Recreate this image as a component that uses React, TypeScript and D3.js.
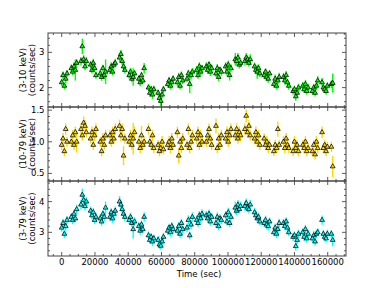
import React from "react";
import * as d3 from "d3";

// Time bins (sec)
const TIME = [
  0, 800, 1600, 2400, 3200,
  5800, 6600, 7400, 8200, 9000,
  11600, 12400, 13200, 14000, 14800,
  17400, 18200, 19000, 19800, 20600,
  23200, 24000, 24800, 25600, 26400,
  29000, 29800, 30600, 31400, 32200,
  34800, 35600, 36400, 37200, 38000,
  40600, 41400, 42200, 43000, 43800,
  46400, 47200, 48000, 48800, 49600,
  52200, 53000, 53800, 54600, 55400,
  58000, 58800, 59600, 60400, 61200,
  63800, 64600, 65400, 66200, 67000,
  69600, 70400, 71200, 72000, 72800,
  75400, 76200, 77000, 77800, 78600,
  81200, 82000, 82800, 83600, 84400,
  87000, 87800, 88600, 89400, 90200,
  92800, 93600, 94400, 95200, 96000,
  98600, 99400, 100200, 101000, 101800,
  104400, 105200, 106000, 106800, 107600,
  110200, 111000, 111800, 112600, 113400,
  116000, 116800, 117600, 118400, 119200,
  121800, 122600, 123400, 124200, 125000,
  127600, 128400, 129200, 130000, 130800,
  133400, 134200, 135000, 135800, 136600,
  139200, 140000, 140800, 141600, 142400,
  145000, 145800, 146600, 147400, 148200,
  150800, 151600, 152400, 153200, 154000,
  156600, 157400, 158200, 159000, 159800,
  162200, 163000,
];

// 3-10 keV rate and error (counts/sec)
const RATE_SOFT = [
  2.15, 2.35, 2.05, 2.25, 2.4,
  2.55, 2.45, 2.6, 2.5, 2.7,
  2.75, 3.17, 2.8, 2.6, 2.75,
  2.65, 2.5, 2.7, 2.55, 2.35,
  2.4, 2.3, 2.55, 2.35, 2.45,
  2.5, 2.6, 2.45, 2.65, 2.7,
  2.85, 2.95, 2.75, 2.6, 2.5,
  2.35, 2.45, 2.25, 2.3, 2.4,
  2.25, 2.15, 2.35, 2.2, 2.55,
  2.0, 1.85, 1.95, 1.8, 1.95,
  1.85, 1.7, 1.62, 1.8, 1.95,
  2.1, 2.2, 2.05, 2.15, 2.25,
  2.15, 2.3, 2.05, 2.35, 2.2,
  2.25, 2.4, 2.1, 2.35, 2.45,
  2.5, 2.35, 2.6, 2.45, 2.55,
  2.6, 2.5, 2.65, 2.45, 2.55,
  2.4, 2.55, 2.3, 2.5, 2.45,
  2.6, 2.45, 2.65, 2.35, 2.55,
  2.8, 2.75, 2.85, 2.65, 2.7,
  2.75, 2.85, 2.8, 2.7, 2.8,
  2.6, 2.5, 2.45, 2.55, 2.4,
  2.35, 2.45, 2.3, 2.25, 2.4,
  2.1, 2.25, 2.05, 2.2, 2.3,
  2.3, 2.2, 2.35, 2.15, 2.05,
  1.9, 1.95, 1.75, 1.85, 2.0,
  2.05, 1.95, 2.1, 1.9, 2.0,
  1.9, 2.0, 1.85, 2.05, 2.2,
  2.15, 2.0, 1.95, 1.9, 2.05,
  2.1, 2.13,
];
const ERR_SOFT = [
  .1, .11, .1, .12, .1,
  .11, .1, .12, .3, .11,
  .12, .22, .12, .11, .12,
  .11, .1, .12, .11, .1,
  .1, .11, .1, .11, .35,
  .11, .12, .1, .11, .12,
  .13, .12, .11, .12, .1,
  .1, .11, .1, .25, .1,
  .1, .11, .1, .1, .15,
  .1, .11, .1, .12, .1,
  .1, .11, .15, .1, .1,
  .1, .11, .1, .12, .1,
  .11, .12, .1, .11, .1,
  .1, .11, .25, .12, .11,
  .11, .1, .12, .11, .1,
  .12, .11, .1, .12, .11,
  .1, .12, .11, .1, .11,
  .12, .11, .12, .15, .11,
  .18, .12, .13, .11, .12,
  .12, .13, .12, .11, .15,
  .11, .12, .2, .11, .1,
  .11, .1, .12, .11, .1,
  .1, .12, .1, .11, .12,
  .12, .11, .12, .1, .11,
  .1, .11, .12, .1, .11,
  .11, .1, .12, .1, .11,
  .1, .11, .1, .12, .13,
  .12, .11, .1, .1, .11,
  .11, .27,
];

// 10-79 keV
const RATE_HARD = [
  0.95, 1.05, 0.85, 1.2, 1.0,
  1.0, 1.1, 0.95, 1.15, 1.0,
  1.2, 1.1, 1.3, 1.25, 1.15,
  1.05, 1.15, 0.95, 1.1, 1.2,
  1.0, 0.85, 1.05, 0.95, 1.1,
  1.1, 1.0, 1.15, 1.05, 1.2,
  1.25, 1.1, 1.2, 0.78, 1.05,
  1.0, 1.1, 0.95, 1.05, 1.15,
  1.0, 0.9, 1.1, 0.95, 1.0,
  1.2, 1.0, 0.95, 1.1, 0.9,
  0.95, 0.85, 0.9, 1.0, 0.88,
  0.95, 1.0, 0.9, 1.05, 0.95,
  1.15, 0.78, 1.0, 0.9, 1.05,
  0.95, 1.2, 0.9, 1.0, 1.1,
  1.05, 1.15, 0.95, 1.1, 1.0,
  1.0, 1.1, 1.2, 1.05, 0.95,
  1.25, 0.9, 1.05, 0.95, 1.1,
  1.05, 1.15, 1.0, 1.1, 1.2,
  1.1, 1.2, 1.05, 1.15, 1.1,
  1.2, 1.41, 1.15, 1.25, 1.1,
  1.05, 1.15, 1.0, 1.1, 0.95,
  1.05, 0.95, 1.0, 0.9, 0.95,
  0.85, 0.95, 0.9, 1.2, 0.95,
  1.0, 0.9, 1.05, 0.95, 0.9,
  0.85, 1.0, 0.9, 0.95, 0.85,
  0.95, 0.9, 1.0, 0.85, 0.9,
  0.85, 0.95, 0.8, 1.0, 0.9,
  1.15, 0.9, 0.95, 0.85, 0.92,
  0.92, 0.61,
];
const ERR_HARD = [
  .08, .09, .08, .09, .08,
  .08, .09, .08, .09, .17,
  .09, .08, .1, .09, .08,
  .08, .09, .08, .09, .09,
  .08, .08, .09, .08, .09,
  .09, .08, .09, .08, .09,
  .1, .09, .09, .15, .08,
  .08, .09, .08, .25, .09,
  .08, .08, .15, .08, .08,
  .09, .08, .08, .09, .08,
  .08, .08, .08, .09, .08,
  .08, .09, .08, .09, .08,
  .09, .12, .08, .08, .09,
  .08, .09, .08, .08, .09,
  .09, .09, .08, .09, .08,
  .08, .09, .09, .08, .08,
  .12, .08, .09, .08, .09,
  .09, .09, .08, .09, .09,
  .09, .09, .08, .09, .09,
  .09, .1, .09, .09, .08,
  .09, .09, .08, .09, .08,
  .08, .08, .09, .08, .08,
  .08, .08, .08, .12, .08,
  .09, .08, .09, .08, .08,
  .08, .09, .08, .08, .08,
  .08, .08, .09, .08, .08,
  .08, .08, .08, .09, .08,
  .09, .08, .08, .08, .08,
  .08, .17,
];

// 3-79 keV
const RATE_FULL = [
  3.15, 3.3, 2.95, 3.2, 3.4,
  3.5, 3.4, 3.6, 3.45, 3.75,
  3.9, 4.22, 4.05, 3.85, 4.0,
  3.7, 3.55, 3.65, 3.4, 3.5,
  3.45, 3.35, 3.6, 3.5, 3.8,
  3.5, 3.65, 3.45, 3.6, 3.7,
  4.0, 3.9, 3.75, 3.6, 3.5,
  3.4, 3.5, 3.3, 3.1, 3.35,
  3.2, 3.05, 3.25, 3.1, 3.5,
  2.9, 2.75, 2.85, 2.7, 2.8,
  2.75, 2.6, 2.56, 2.7, 2.85,
  3.05, 3.15, 3.0, 3.2, 3.1,
  3.05, 3.2, 2.95, 3.3, 3.1,
  3.15, 3.4, 2.9, 3.25, 3.5,
  3.4, 3.3, 3.55, 3.45, 3.6,
  3.55, 3.45, 3.6, 3.35, 3.5,
  3.3, 3.5, 3.2, 3.45, 3.4,
  3.55, 3.35, 3.65, 3.3, 3.5,
  3.8, 3.7, 3.9, 3.75, 3.85,
  3.85, 3.95, 3.8, 3.75, 3.9,
  3.65, 3.55, 3.45, 3.5, 3.35,
  3.3, 3.4, 3.25, 3.2, 3.35,
  3.0, 3.15, 2.95, 3.1, 3.3,
  3.3, 3.2, 3.35, 3.15, 3.0,
  2.85, 2.9, 2.55, 2.75, 2.95,
  3.0, 2.85, 3.1, 2.8, 2.95,
  2.8, 2.9, 2.7, 2.95, 3.0,
  3.4, 2.95, 2.85, 2.8, 2.95,
  2.95, 2.75,
];
const ERR_FULL = [
  .13, .14, .13, .14, .13,
  .14, .13, .14, .13, .15,
  .15, .2, .15, .14, .15,
  .14, .13, .14, .13, .14,
  .13, .14, .13, .14, .2,
  .14, .13, .14, .13, .14,
  .18, .15, .14, .14, .13,
  .13, .14, .13, .3, .14,
  .13, .13, .14, .13, .15,
  .13, .13, .13, .14, .13,
  .13, .13, .13, .13, .14,
  .14, .13, .14, .13, .14,
  .13, .14, .13, .14, .13,
  .14, .15, .13, .14, .15,
  .14, .13, .14, .14, .15,
  .14, .13, .14, .13, .14,
  .14, .15, .13, .14, .13,
  .14, .13, .15, .13, .14,
  .2, .14, .15, .14, .15,
  .15, .15, .14, .14, .15,
  .14, .14, .13, .14, .13,
  .13, .14, .13, .14, .13,
  .13, .14, .13, .15, .14,
  .14, .13, .14, .13, .13,
  .13, .13, .14, .13, .14,
  .13, .13, .14, .13, .13,
  .13, .14, .13, .14, .13,
  .15, .13, .14, .13, .14,
  .13, .2,
];

const X_TICKS = [0, 20000, 40000, 60000, 80000, 100000, 120000, 140000, 160000];
const LABEL_SOFT = ["(3-10 keV)", "(counts/sec)"];
const LABEL_HARD = ["(10-79 keV)", "(counts/sec)"];
const LABEL_FULL = ["(3-79 keV)", "(counts/sec)"];
const TICKS_SOFT = [2, 3];
const TICKS_HARD = [0.5, 1.0, 1.5];
const TICKS_FULL = [3, 4];

const FONT = "DejaVu Sans, sans-serif";
const L = 48, R = 346;

const x = d3.scaleLinear().domain([-8240, 171000]).range([L, R]);

const panels = [
  { rate: RATE_SOFT, err: ERR_SOFT, label: LABEL_SOFT, ticks: TICKS_SOFT, fmt: d3.format("d"), domain: [1.45, 3.55], top: 33, bottom: 107, minor: 0.2, color: "#00ff00" },
  { rate: RATE_HARD, err: ERR_HARD, label: LABEL_HARD, ticks: TICKS_HARD, fmt: d3.format(".1f"), domain: [0.38, 1.55], top: 107, bottom: 181, minor: 0.1, color: "#ffd700" },
  { rate: RATE_FULL, err: ERR_FULL, label: LABEL_FULL, ticks: TICKS_FULL, fmt: d3.format("d"), domain: [2.23, 4.67], top: 181, bottom: 256, minor: 0.2, color: "#00ffff" },
];

const tri = d3.symbol().type(d3.symbolTriangle).size(10)() as string;

function Panel({ p, last }: { p: typeof panels[number]; last: boolean }) {
  const y = d3.scaleLinear().domain(p.domain).range([p.bottom, p.top]);
  const minorY = d3.range(Math.ceil(p.domain[0] / p.minor), Math.floor(p.domain[1] / p.minor) + 1).map((k) => +(k * p.minor).toFixed(3));
  const minorX = d3.range(-5000, 171000, 5000);
  const midY = (p.top + p.bottom) / 2;
  const tc = "#333";
  return (
    <g>
      <g>
        {TIME.map((t, i) => (
          <line key={"e" + i} x1={x(t)} x2={x(t)} y1={y(p.rate[i] - p.err[i])} y2={y(p.rate[i] + p.err[i])} stroke={p.color} strokeWidth={1.4} />
        ))}
        {TIME.map((t, i) => (
          <path key={"m" + i} d={tri} transform={`translate(${x(t)},${y(p.rate[i])})`} fill={p.color} stroke="#000" strokeWidth={0.75} />
        ))}
      </g>
      {minorX.map((v) => {
        const major = v % 20000 === 0;
        const len = major ? 4 : 2;
        return (
          <g key={"x" + v}>
            <line x1={x(v)} x2={x(v)} y1={p.bottom} y2={p.bottom - len} stroke={tc} strokeWidth={0.8} />
            <line x1={x(v)} x2={x(v)} y1={p.top} y2={p.top + len} stroke={tc} strokeWidth={0.8} />
          </g>
        );
      })}
      {minorY.map((v) => {
        const major = p.ticks.some((t) => Math.abs(t - v) < 1e-6);
        const len = major ? 4 : 2;
        return (
          <g key={"y" + v}>
            <line x1={L} x2={L + len} y1={y(v)} y2={y(v)} stroke={tc} strokeWidth={0.8} />
            <line x1={R} x2={R - len} y1={y(v)} y2={y(v)} stroke={tc} strokeWidth={0.8} />
          </g>
        );
      })}
      {p.ticks.map((v) => (
        <text key={"yl" + v} x={L - 3.5} y={y(v)} dy="0.35em" textAnchor="end" fontSize={8.5} fontFamily={FONT} fill="#000">
          {p.fmt(v)}
        </text>
      ))}
      <rect x={L} y={p.top} width={R - L} height={p.bottom - p.top} fill="none" stroke="#444" strokeWidth={1} />
      <text transform={`translate(${23},${midY}) rotate(-90)`} textAnchor="middle" dy="0.35em" fontSize={8.5} fontFamily={FONT} fill="#000">
        {p.label[0]}
      </text>
      <text transform={`translate(${32.5},${midY}) rotate(-90)`} textAnchor="middle" dy="0.35em" fontSize={8.5} fontFamily={FONT} fill="#000">
        {p.label[1]}
      </text>
      {last &&
        X_TICKS.map((v) => (
          <text key={"xl" + v} x={x(v)} y={262} dy="0.35em" textAnchor="middle" fontSize={8.5} fontFamily={FONT} fill="#000">
            {v}
          </text>
        ))}
    </g>
  );
}

export default function App() {
  return (
    <svg width={384} height={288} style={{ position: "absolute", left: 0, top: 0, background: "#fff" }}>
      <rect width={384} height={288} fill="#fff" />
      {panels.map((p, i) => (
        <Panel key={i} p={p} last={i === panels.length - 1} />
      ))}
      <text x={(L + R) / 2 + 2} y={274} dy="0.35em" textAnchor="middle" fontSize={8.5} fontFamily={FONT} fill="#000">
        Time (sec)
      </text>
    </svg>
  );
}
